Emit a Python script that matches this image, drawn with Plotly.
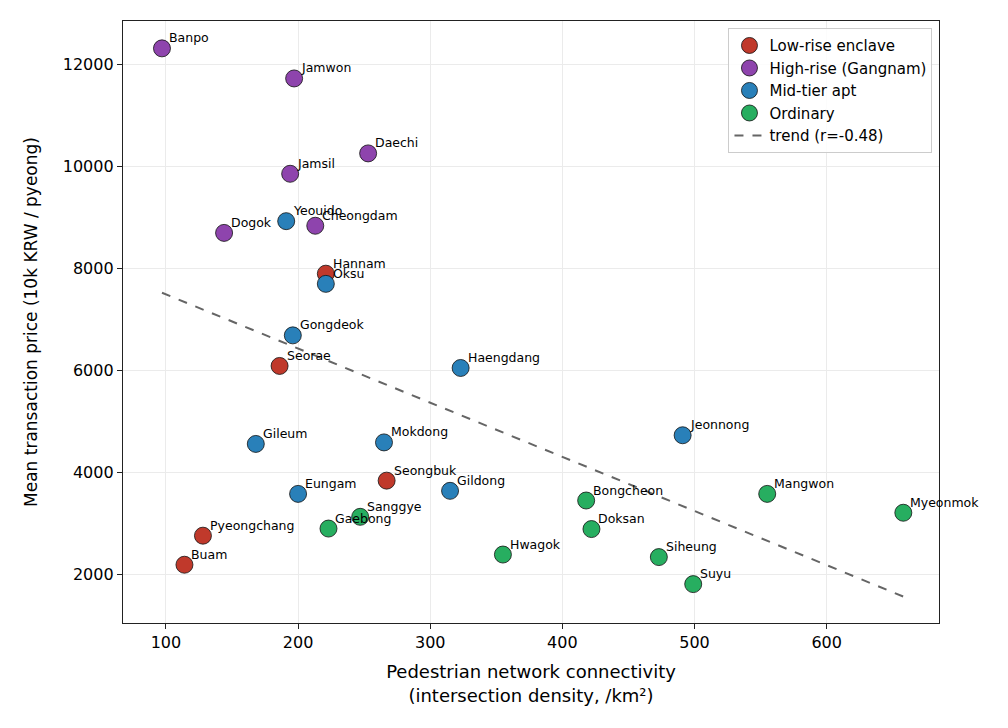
import numpy as np
import plotly.graph_objects as go

names = ["Banpo", "Jamwon", "Daechi", "Jamsil", "Cheongdam", "Dogok",
         "Hannam", "Seorae", "Seongbuk", "Pyeongchang", "Buam",
         "Yeouido", "Oksu", "Gongdeok", "Gileum", "Mokdong", "Eungam", "Gildong", "Haengdang", "Jeonnong",
         "Sanggye", "Gaebong", "Hwagok", "Bongcheon", "Doksan", "Siheung", "Suyu", "Mangwon", "Myeonmok"]
connectivity = [97, 197, 253, 194, 213, 144,
                221, 186, 267, 128, 114,
                191, 221, 196, 168, 265, 200, 315, 323, 491,
                247, 223, 355, 418, 422, 473, 499, 555, 658]
price = [12320, 11730, 10260, 9860, 8840, 8700,
         7900, 6090, 3840, 2760, 2190,
         8930, 7700, 6690, 4560, 4590, 3580, 3640, 6050, 4730,
         3130, 2900, 2390, 3450, 2890, 2340, 1810, 3580, 3210]
group = ["High-rise (Gangnam)"] * 6 + ["Low-rise enclave"] * 5 + ["Mid-tier apt"] * 9 + ["Ordinary"] * 9

categories = ["Low-rise enclave", "High-rise (Gangnam)", "Mid-tier apt", "Ordinary"]
colors = {"Low-rise enclave": "#c0392b", "High-rise (Gangnam)": "#8e44ad",
          "Mid-tier apt": "#2980b9", "Ordinary": "#27ae60"}
trend_label = "trend (r=-0.48)"

x_ticks = [100, 200, 300, 400, 500, 600]
y_ticks = [2000, 4000, 6000, 8000, 10000, 12000]
y_ticklabels = ["2000", "4000", "6000", "8000", "10000", "12000"]

FONT = "DejaVu Sans"
fig = go.Figure()

for cat in categories:
    xs = [x for x, g in zip(connectivity, group) if g == cat]
    ys = [y for y, g in zip(price, group) if g == cat]
    fig.add_trace(go.Scatter(
        x=xs, y=ys, mode="markers", name=cat,
        marker=dict(size=17, color=colors[cat], line=dict(color="#111111", width=0.8)),
    ))

xa = np.array(connectivity, dtype=float)
ya = np.array(price, dtype=float)
slope, intercept = np.polyfit(xa, ya, 1)
xt = np.array([xa.min(), xa.max()])
fig.add_trace(go.Scatter(
    x=xt, y=slope * xt + intercept, mode="lines", name=trend_label,
    line=dict(color="#656565", width=2, dash="dash"),
))

for n, x, y in zip(names, connectivity, price):
    fig.add_annotation(x=x, y=y, text=n, showarrow=False, xanchor="left", yanchor="bottom",
                       xshift=5, yshift=1, font=dict(family=FONT, size=12.5, color="black"))

axis_common = dict(
    showline=True, linecolor="#222222", linewidth=1.3, mirror=True,
    ticks="outside", ticklen=5, tickwidth=1.2, tickcolor="#222222",
    showgrid=True, gridcolor="#ebebeb", gridwidth=1, zeroline=False,
    tickfont=dict(family=FONT, size=16, color="black"),
)

fig.update_layout(
    width=1008, height=728,
    margin=dict(l=123, r=69, t=21, b=105),
    paper_bgcolor="white", plot_bgcolor="white",
    font=dict(family=FONT, color="black"),
    xaxis=dict(range=[67.5, 685], tickvals=x_ticks,
               title=dict(text="Pedestrian network connectivity<br>(intersection density, /km²)",
                          font=dict(family=FONT, size=18), standoff=14),
               **axis_common),
    yaxis=dict(range=[1047, 12857], tickvals=y_ticks, ticktext=y_ticklabels,
               title=dict(text="Mean transaction price (10k KRW / pyeong)",
                          font=dict(family=FONT, size=17), standoff=20),
               **axis_common),
    legend=dict(x=0.992, y=0.988, xanchor="right", yanchor="top",
                bgcolor="rgba(255,255,255,0.85)", bordercolor="#cccccc", borderwidth=1,
                font=dict(family=FONT, size=15), tracegroupgap=0, itemsizing="trace",
                itemwidth=30),
    showlegend=True,
)

fig.write_html("out.html")
